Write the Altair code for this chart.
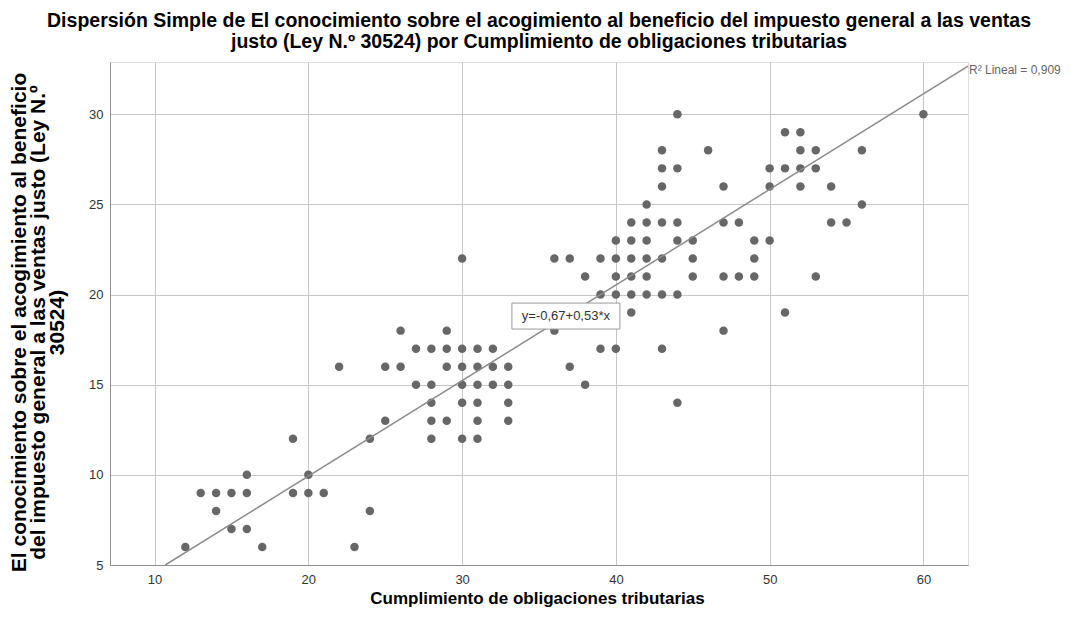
import altair as alt
import pandas as pd

# ---- data ----
x_vals = [12, 13, 14, 14, 15, 15, 16, 16, 16, 17,
          19, 19, 20, 20, 21, 22, 23, 24, 24, 25,
          25, 26, 26,
          27, 28, 29, 30, 31, 32, 29,
          29, 30, 31, 32, 33,
          27, 28, 30, 31, 32, 33,
          28, 30, 31, 33,
          28, 29, 31, 33,
          28, 30, 31,
          30,
          36, 37, 39, 40, 41, 42, 43, 45, 49,
          38, 40, 41, 42, 45, 47, 48, 49, 53,
          39, 40, 41, 42, 43, 44,
          41, 51, 36, 47,
          39, 40, 43, 37, 38, 44,
          40, 41, 42, 44, 45, 49, 50,
          41, 42, 43, 44, 47, 48, 54, 55,
          42, 56,
          43, 47, 50, 52, 54,
          43, 44, 50, 51, 52, 53,
          43, 46, 52, 53, 56,
          51, 52, 44, 60]
y_vals = [6, 9, 9, 8, 9, 7, 10, 9, 7, 6,
          12, 9, 10, 9, 9, 16, 6, 12, 8, 13,
          16, 16, 18,
          17, 17, 17, 17, 17, 17, 18,
          16, 16, 16, 16, 16,
          15, 15, 15, 15, 15, 15,
          14, 14, 14, 14,
          13, 13, 13, 13,
          12, 12, 12,
          22,
          22, 22, 22, 22, 22, 22, 22, 22, 22,
          21, 21, 21, 21, 21, 21, 21, 21, 21,
          20, 20, 20, 20, 20, 20,
          19, 19, 18, 18,
          17, 17, 17, 16, 15, 14,
          23, 23, 23, 23, 23, 23, 23,
          24, 24, 24, 24, 24, 24, 24, 24,
          25, 25,
          26, 26, 26, 26, 26,
          27, 27, 27, 27, 27, 27,
          28, 28, 28, 28, 28,
          29, 29, 30, 30]

intercept = -0.67
slope = 0.53
r2_text = "R\u00b2 Lineal = 0,909"
eq_text = "y=-0,67+0,53*x"
eq_label_x = 36.75

x_domain = [7.1, 62.9]
y_domain = [5, 32.9]
x_ticks = [10, 20, 30, 40, 50, 60]
y_ticks = [5, 10, 15, 20, 25, 30]

title_lines = [
    "Dispersi\u00f3n Simple de El conocimiento sobre el acogimiento al beneficio del impuesto general a las ventas",
    "justo (Ley N.\u00ba 30524) por Cumplimiento de obligaciones tributarias",
]
y_title = [
    "El conocimiento sobre el acogimiento al beneficio",
    "del impuesto general a las ventas justo (Ley N.\u00ba",
    "30524)",
]
x_title = "Cumplimiento de obligaciones tributarias"

FONT = "Liberation Sans, Arial, sans-serif"
W, H = 858, 503

pts = pd.DataFrame({"x": x_vals, "y": y_vals})

x_start = (y_domain[0] - intercept) / slope
x_end = x_domain[1]
fit = pd.DataFrame({"x": [x_start, x_end],
                    "y": [intercept + slope * x_start, intercept + slope * x_end]})
eq = pd.DataFrame({"x": [eq_label_x], "y": [intercept + slope * eq_label_x], "t": [eq_text]})
r2 = pd.DataFrame({"x": [x_end], "y": [intercept + slope * x_end], "t": [r2_text]})

xs = alt.Scale(domain=x_domain, nice=False, zero=False)
ys = alt.Scale(domain=y_domain, nice=False, zero=False)

x_axis = alt.Axis(values=x_ticks, title=x_title, grid=True, ticks=False, tickSize=0,
                  labelPadding=8, labelFontSize=13, labelColor="#333333", labelFont=FONT,
                  titleFont=FONT, titleFontSize=17, titleFontWeight="bold", titleColor="#000000",
                  titleBaseline="middle", titleY=33, titleX=W / 2 - 2, titleAlign="center",
                  domainColor="#8f8f8f", gridColor="#c6c6c6", labelFlush=False)
y_axis = alt.Axis(values=y_ticks, title=y_title, grid=True, ticks=False, tickSize=0,
                  labelPadding=7, labelFontSize=13, labelColor="#333333", labelFont=FONT,
                  titleFont=FONT, titleFontSize=21, titleFontWeight="bold", titleColor="#000000",
                  titleAngle=270, titleAlign="center", titleBaseline="middle",
                  titleX=-91, titleY=260, titleLineHeight=19,
                  domainColor="#8f8f8f", gridColor="#c6c6c6", labelFlush=False)

points = alt.Chart(pts).mark_point(filled=True, size=72, color="#676767", opacity=1).encode(
    x=alt.X("x:Q", scale=xs, axis=x_axis),
    y=alt.Y("y:Q", scale=ys, axis=y_axis),
)

line = alt.Chart(fit).mark_line(color="#8a8a8a", strokeWidth=1.5, clip=True).encode(
    x=alt.X("x:Q", scale=xs), y=alt.Y("y:Q", scale=ys))

box = alt.Chart(eq).mark_point(
    shape="M-1,-0.2407L1,-0.2407L1,0.2407L-1,0.2407Z", size=108 * 108,
    filled=True, fill="white", stroke="#9a9a9a", strokeWidth=1, opacity=1
).encode(x=alt.X("x:Q", scale=xs), y=alt.Y("y:Q", scale=ys))

eq_lbl = alt.Chart(eq).mark_text(font=FONT, fontSize=13, color="#333333",
                                 align="center", baseline="middle").encode(
    x=alt.X("x:Q", scale=xs), y=alt.Y("y:Q", scale=ys), text="t:N")

r2_lbl = alt.Chart(r2).mark_text(font=FONT, fontSize=12, color="#666666",
                                 align="left", baseline="middle", dx=1, dy=4).encode(
    x=alt.X("x:Q", scale=xs), y=alt.Y("y:Q", scale=ys), text="t:N")

chart = alt.layer(points, line, box, eq_lbl, r2_lbl).properties(
    width=W, height=H,
    title=alt.TitleParams(text=title_lines, font=FONT, fontSize=19.5, fontWeight="bold",
                          color="#000000", anchor="middle", lineHeight=21, offset=10),
    autosize=alt.AutoSizeParams(type="none"),
    padding={"left": 102, "top": 54, "right": 100, "bottom": 50},
).configure_view(stroke=None).configure(background="white")

chart.save("out.html", embed_options={"renderer": "svg", "actions": False})
